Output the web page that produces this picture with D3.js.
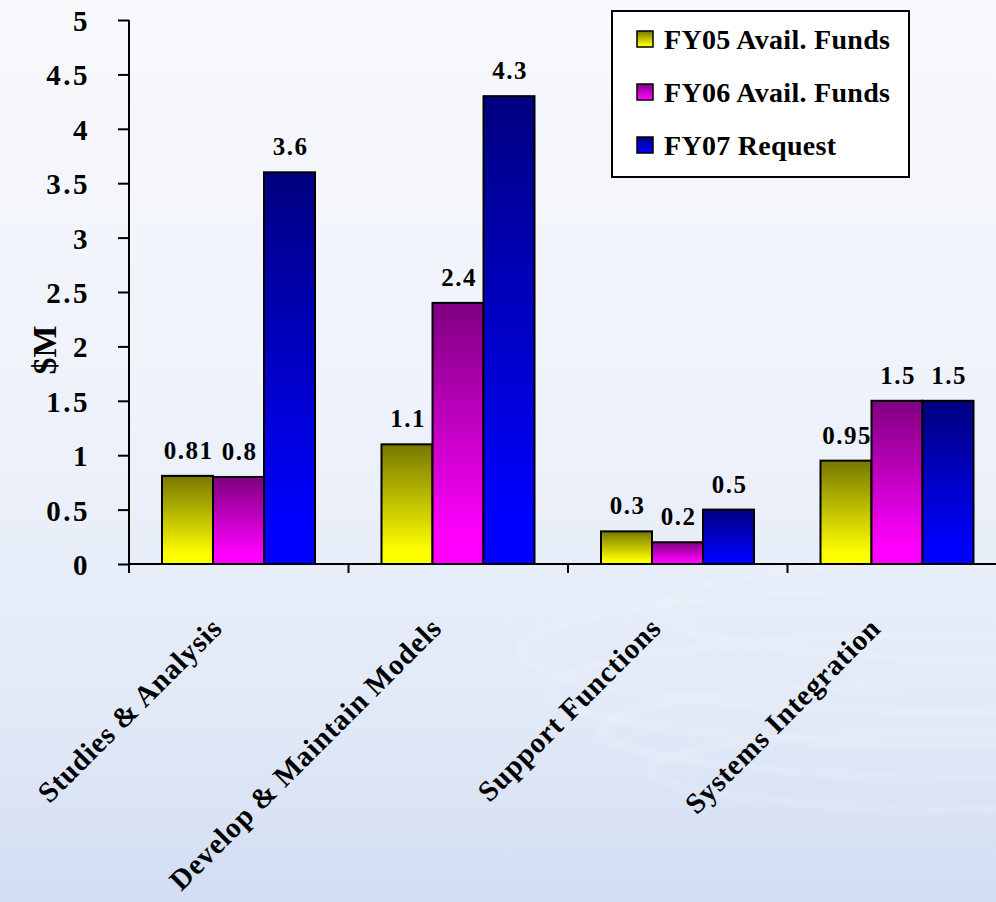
<!DOCTYPE html>
<html>
<head>
<meta charset="utf-8">
<script src="https://cdn.jsdelivr.net/npm/d3@7"></script>
<style>
  body { margin: 0; padding: 0; }
  svg { display: block; }
</style>
</head>
<body>
<div id="chart"></div>
<script>
// data
const categories = ["Studies & Analysis", "Develop & Maintain Models", "Support Functions", "Systems Integration"];
const seriesNames = ["FY05 Avail. Funds", "FY06 Avail. Funds", "FY07 Request"];
const fy05 = [0.81, 1.1, 0.3, 0.95];
const fy06 = [0.8, 2.4, 0.2, 1.5];
const fy07 = [3.6, 4.3, 0.5, 1.5];
const valueLabels = [["0.81", "1.1", "0.3", "0.95"], ["0.8", "2.4", "0.2", "1.5"], ["3.6", "4.3", "0.5", "1.5"]];
const yTicks = [0, 0.5, 1, 1.5, 2, 2.5, 3, 3.5, 4, 4.5, 5];

const W = 996, H = 902;
const FONT = '"Liberation Serif"';
const seriesValues = [fy05, fy06, fy07];
const colorTop = ["#777700", "#7f007f", "#00007f"];
const colorBottom = ["#ffff00", "#ff00ff", "#0000ff"];

const svg = d3.select("#chart").append("svg")
    .attr("width", W)
    .attr("height", H);

const defs = svg.append("defs");

// background gradient
let bg = defs.append("linearGradient").attr("id", "bg")
    .attr("x1", 0).attr("y1", 0).attr("x2", 0).attr("y2", 1);
bg.append("stop").attr("offset", 0).attr("stop-color", "#f8f9fc");
bg.append("stop").attr("offset", 0.45).attr("stop-color", "#eef2fa");
bg.append("stop").attr("offset", 0.8).attr("stop-color", "#e1e9f7");
bg.append("stop").attr("offset", 1).attr("stop-color", "#d2ddf3");

defs.append("filter").attr("id", "blur")
    .attr("x", "-20%").attr("y", "-50%").attr("width", "140%").attr("height", "200%")
    .append("feGaussianBlur").attr("stdDeviation", 3);

// bar gradients
seriesNames.forEach((s, i) => {
    let g = defs.append("linearGradient").attr("id", "grad" + i)
        .attr("x1", 0).attr("y1", 0).attr("x2", 0).attr("y2", 1);
    g.append("stop").attr("offset", 0).attr("stop-color", colorTop[i]);
    g.append("stop").attr("offset", 0.9).attr("stop-color", colorBottom[i]);
    g.append("stop").attr("offset", 1).attr("stop-color", colorBottom[i]);
});

svg.append("rect").attr("width", W).attr("height", H).attr("fill", "url(#bg)");

// faint water ripples in the lower right
let ripples = svg.append("g").attr("filter", "url(#blur)").attr("fill", "none");
[[980, 690, 430, 55], [1000, 730, 400, 48], [960, 650, 440, 62], [1010, 770, 360, 40], [990, 610, 330, 50]].forEach(r => {
    ripples.append("ellipse")
        .attr("cx", r[0]).attr("cy", r[1]).attr("rx", r[2]).attr("ry", r[3])
        .attr("stroke", "#ffffff").attr("stroke-width", 4).attr("opacity", 0.25);
});

// scales
const x0 = d3.scaleBand()
    .domain(categories)
    .range([129, 129 + 4 * 219.5]);

const x1 = d3.scaleBand()
    .domain(d3.range(3))
    .range([33, 186]);

const y = d3.scaleLinear()
    .domain([0, 5])
    .range([564, 20]);

// bars
const groups = svg.selectAll(".cat")
    .data(categories)
    .enter().append("g")
    .attr("class", "cat")
    .attr("transform", d => `translate(${x0(d)},0)`);

groups.each(function(c, ci) {
    let g = d3.select(this);
    let data = seriesValues.map((vals, si) => ({si: si, v: vals[ci], label: valueLabels[si][ci]}));
    g.selectAll("rect")
        .data(data)
        .enter().append("rect")
        .attr("x", d => x1(d.si))
        .attr("y", d => y(d.v))
        .attr("width", x1.bandwidth())
        .attr("height", d => y(0) - y(d.v))
        .attr("fill", d => `url(#grad${d.si})`)
        .attr("stroke", "#000")
        .attr("stroke-width", 2);
    g.selectAll(".val")
        .data(data)
        .enter().append("text")
        .attr("class", "val")
        .attr("x", d => x1(d.si) + x1.bandwidth() / 2 + 1)
        .attr("y", d => y(d.v) - 17)
        .attr("text-anchor", "middle")
        .style("font-family", FONT)
        .style("font-weight", "bold")
        .style("font-size", "25px")
        .style("letter-spacing", "1.5px")
        .text(d => d.label);
});

// y axis
const yAxis = d3.axisLeft(y)
    .tickValues(yTicks)
    .tickSize(11)
    .tickPadding(28)
    .tickFormat(d => d3.format("")(d));

const yg = svg.append("g")
    .attr("transform", "translate(129,0)")
    .call(yAxis);
yg.select(".domain").attr("stroke", "#000").attr("stroke-width", 2).attr("d", `M0,${y(5)}V${y(0)}`);
yg.selectAll(".tick line").attr("stroke", "#000").attr("stroke-width", 2);
yg.selectAll(".tick text")
    .attr("dy", "0.36em")
    .attr("fill", "#000")
    .style("font-family", FONT)
    .style("font-weight", "bold")
    .style("font-size", "29px")
    .style("letter-spacing", "2.5px");

// x axis
const xAxis = d3.axisBottom(x0)
    .tickSize(9)
    .tickFormat("");

const xg = svg.append("g")
    .attr("transform", `translate(0,${y(0)})`)
    .call(xAxis);
xg.select(".domain").attr("stroke", "#000").attr("stroke-width", 2)
    .attr("d", `M129,0H${W}`);
xg.selectAll(".tick").attr("transform", d => `translate(${x0(d)},0)`);
xg.selectAll(".tick line").attr("stroke", "#000").attr("stroke-width", 2);

// category labels
svg.selectAll(".cat-label")
    .data(categories)
    .enter().append("text")
    .attr("class", "cat-label")
    .attr("text-anchor", "end")
    .attr("transform", d => `translate(${x0(d) + x0.bandwidth() / 2 - 15},630) rotate(-45)`)
    .style("font-family", FONT)
    .style("font-weight", "bold")
    .style("font-size", "29px")
    .style("letter-spacing", "0.8px")
    .text(d => d);

// y axis title
svg.append("text")
    .attr("transform", "translate(56,350) rotate(-90)")
    .attr("text-anchor", "middle")
    .style("font-family", FONT)
    .style("font-weight", "bold")
    .style("font-size", "34px")
    .text("$M");

// legend
const legend = svg.append("g").attr("transform", "translate(612,11)");
legend.append("rect")
    .attr("width", 297).attr("height", 166)
    .attr("fill", "#fff").attr("stroke", "#000").attr("stroke-width", 2);

const items = legend.selectAll(".item")
    .data(seriesNames)
    .enter().append("g")
    .attr("class", "item")
    .attr("transform", (d, i) => `translate(25,${20 + i * 53})`);
items.append("rect")
    .attr("width", 16).attr("height", 16)
    .attr("fill", (d, i) => `url(#grad${i})`)
    .attr("stroke", "#000").attr("stroke-width", 1.5);
items.append("text")
    .attr("x", 27).attr("y", 18)
    .style("font-family", FONT)
    .style("font-weight", "bold")
    .style("font-size", "28px")
    .style("letter-spacing", "0.3px")
    .text(d => d);
</script>
</body>
</html>
